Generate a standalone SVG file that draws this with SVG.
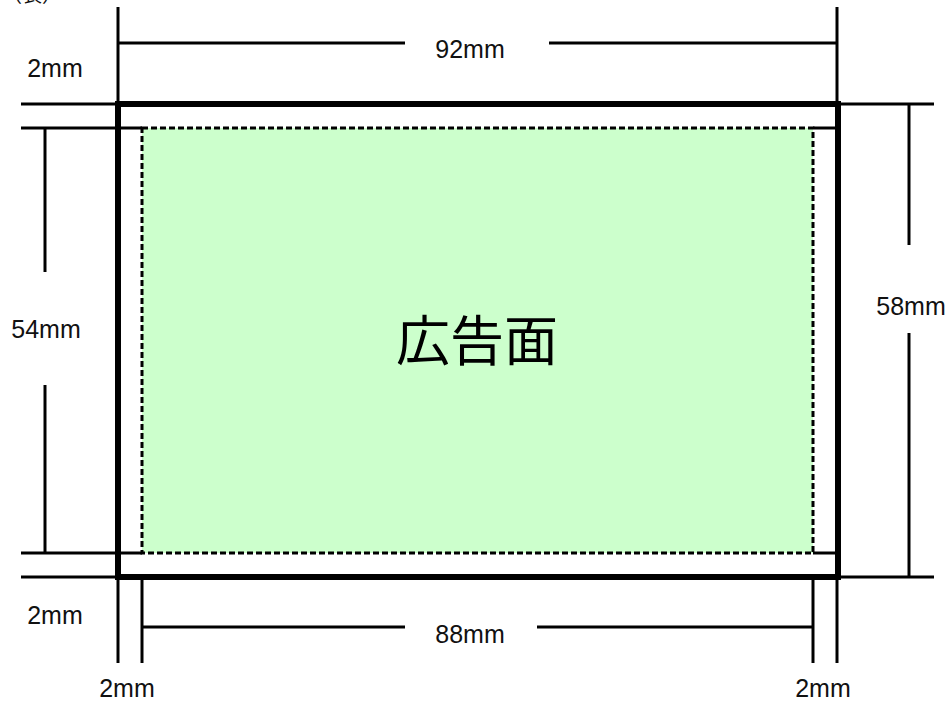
<svg xmlns="http://www.w3.org/2000/svg" width="951" height="701" viewBox="0 0 951 701">
<style>
.l{stroke:#000;stroke-width:3;fill:none}
.f{stroke:#000;stroke-width:6;fill:none}
.t{font-family:"Liberation Sans",Arial,sans-serif;font-size:25px;fill:#111}
.j{font-family:"Noto Sans CJK JP","Noto Sans CJK SC",sans-serif;font-size:54px;fill:#000}
</style>
<rect width="951" height="701" fill="#fff"/>
<text class="t" x="2" y="2" style="font-family:'Noto Sans CJK JP',sans-serif;font-size:20px">（表）</text>
<g id="ad-area">
<rect x="142" y="128" width="671" height="425" fill="#ccffcc" stroke="#000" stroke-width="3" stroke-dasharray="6,3"/>
<text class="j" x="477" y="361" text-anchor="middle">広告面</text>
</g>
<g id="connectors">
<line class="l" x1="118" y1="7" x2="118" y2="104"/>
<line class="l" x1="837" y1="7" x2="837" y2="104"/>
<line class="l" x1="118" y1="43" x2="405" y2="43"/>
<line class="l" x1="549" y1="43" x2="837" y2="43"/>
<line class="l" x1="21" y1="104" x2="934" y2="104"/>
<line class="l" x1="21" y1="128" x2="142" y2="128"/>
<line class="l" x1="813" y1="128" x2="837" y2="128"/>
<line class="l" x1="21" y1="553" x2="142" y2="553"/>
<line class="l" x1="813" y1="553" x2="837" y2="553"/>
<line class="l" x1="21" y1="577" x2="934" y2="577"/>
<line class="l" x1="45" y1="128" x2="45" y2="272"/>
<line class="l" x1="45" y1="385" x2="45" y2="553"/>
<line class="l" x1="909" y1="104" x2="909" y2="245"/>
<line class="l" x1="909" y1="333" x2="909" y2="577"/>
<line class="l" x1="118" y1="577" x2="118" y2="663"/>
<line class="l" x1="142" y1="577" x2="142" y2="663"/>
<line class="l" x1="813" y1="577" x2="813" y2="663"/>
<line class="l" x1="837" y1="577" x2="837" y2="663"/>
<line class="l" x1="142" y1="627" x2="405" y2="627"/>
<line class="l" x1="537" y1="627" x2="813" y2="627"/>
</g>
<g id="frame">
<rect class="f" x="118" y="104" width="720" height="473"/>
</g>
<g id="labels">
<text class="t" x="470" y="58" text-anchor="middle">92mm</text>
<text class="t" x="55" y="77" text-anchor="middle">2mm</text>
<text class="t" x="55" y="624" text-anchor="middle">2mm</text>
<text class="t" x="46" y="338" text-anchor="middle">54mm</text>
<text class="t" x="911" y="315" text-anchor="middle">58mm</text>
<text class="t" x="470" y="643" text-anchor="middle">88mm</text>
<text class="t" x="127" y="697" text-anchor="middle">2mm</text>
<text class="t" x="823" y="697" text-anchor="middle">2mm</text>
</g>
</svg>
